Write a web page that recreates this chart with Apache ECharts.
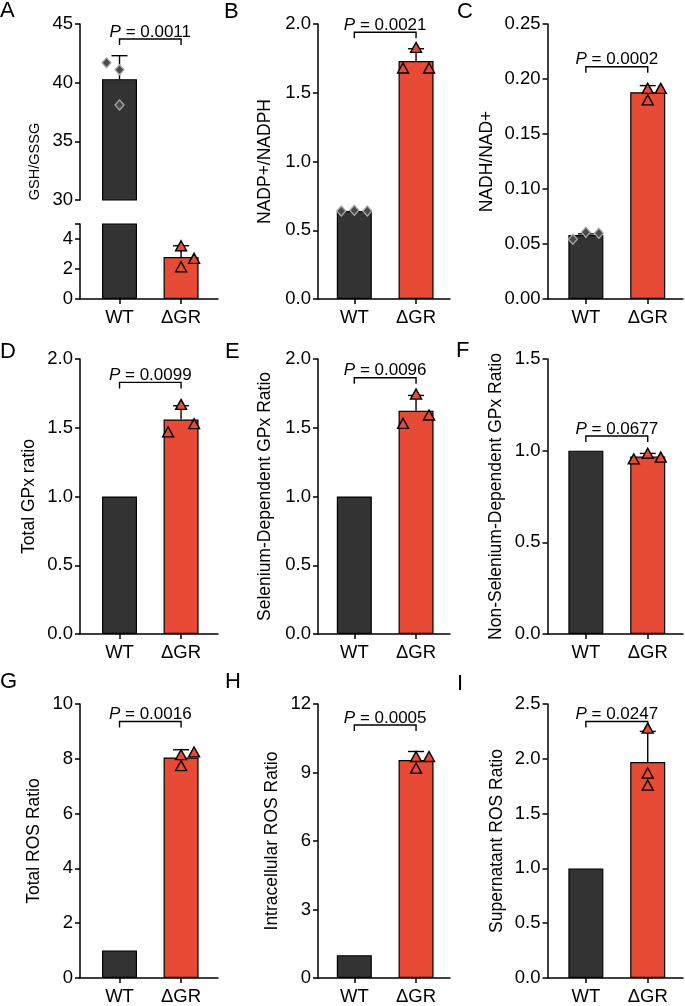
<!DOCTYPE html>
<html><head><meta charset="utf-8">
<script src="https://cdn.jsdelivr.net/npm/echarts@6/dist/echarts.min.js"></script>
<style>html,body{margin:0;padding:0;background:#fff}#c{width:685px;height:1006px}</style>
</head><body><div id="c"></div>
<script>
// ---------------- data ----------------
const categories = ['WT', 'ΔGR'];
const panelLetters = ['A','B','C','D','E','F','G','H','I'];
const yNames = ['GSH/GSSG','NADP+/NADPH','NADH/NAD+','Total GPx ratio','Selenium-Dependent GPx Ratio',
  'Non-Selenium-Dependent GPx Ratio','Total ROS Ratio','Intracellular ROS Ratio','Supernatant ROS Ratio'];
const pValues = ['0.0011','0.0021','0.0002','0.0099','0.0096','0.0677','0.0016','0.0005','0.0247'];
// bar means [WT, ΔGR]
const barMeans = [[40.3,2.8],[0.64,1.73],[0.0582,0.188],[1,1.56],[1,1.624],[1,0.968],[1,8.05],[1,9.55],[1,1.97]];
// top of error bars (mean + SD) [WT, ΔGR]; null = none
const errTops = [[42.3,3.55],[null,1.82],[0.0592,0.194],[null,1.66],[null,1.735],[null,0.985],[null,8.33],[null,9.92],[null,2.25]];
// replicate points
const wtPoints = [[41.7,41.1,38.1],[0.64,0.645,0.64],[0.0543,0.0606,0.0597],[],[],[],[],[],[]];
const grPoints = [[3.55,2.71,2.15],[1.83,1.68,1.68],[0.1915,0.1915,0.181],[1.67,1.47,1.53],[1.745,1.532,1.593],
  [0.955,0.986,0.965],[8.15,8.25,7.75],[9.7,9.7,9.19],[2.28,1.87,1.76]];
// significance bracket level (y value)
const bracketLevels = [43.72,1.94,0.2112,1.83,1.864,1.08,9.36,11.08,2.34];
// y axes (panel A: upper segment here, lower segment below)
const yMins = [30,0,0,0,0,0,0,0,0];
const yMaxs = [45,2,0.25,2,2,1.5,10,12,2.5];
const ySteps = [5,0.5,0.05,0.5,0.5,0.5,2,3,0.5];
const yDecimals = [0,1,2,1,1,1,0,0,1];
const aLowerMax = 5;
const aLowerTicks = [0,2,4,5];
const aLowerLabels = [0,2,4];

// ---------------- layout / style ----------------
const FONT = '"Liberation Sans", Arial, Helvetica, sans-serif';
const WT_COLOR = '#333333', GR_COLOR = '#e84b35';
const colLeft = [80, 318, 547.5], colWidth = [138, 132, 135.5];
const colXMin = [-0.642, -0.588, -0.62], colXMax = [1.60, 1.55, 1.57];
const rowTop = [24, 359, 704], H = 275;
const nameGaps = [38, 44, 51, 42, 44, 42, 37, 37, 41];
const letterPos = [[0,0],[224,1],[457,1],[0,341],[225,341],[456,340],[0,671],[225,671],[457,673]];
// horizontal scatter offsets (px) for each replicate
const wtJitter = [[-13,0,0],[-13,0,13],[-13,0,13],[],[],[],[],[],[]];
const grJitter = [[0,13,0],[0,-13,13],[0,13,0],[0,-13,13],[0,-13,13],[-14,0,13],[0,13,0],[0,13,0],[0,0,0]];

// parts: one grid each
const parts = [];
for (let p = 0; p < 9; p++) {
  const col = p % 3, row = Math.floor(p / 3);
  if (p === 0) {
    parts.push({p, col, top: 24, height: 176, min: 30, max: 45, step: 5, dec: 0, showX: false, bracket: true, name: false});
    parts.push({p, col, top: 224, height: 75, min: 0, max: aLowerMax, step: 2, dec: 0, showX: true, bracket: false, name: false,
      tickVals: aLowerTicks, labelVals: aLowerLabels});
  } else {
    parts.push({p, col, top: rowTop[row], height: H, min: yMins[p], max: yMaxs[p], step: ySteps[p], dec: yDecimals[p],
      showX: true, bracket: true, name: true});
  }
}

const grids = [], xAxes = [], yAxes = [], series = [];
const axisLineStyle = {color: '#000', width: 1.5};
const labelStyle = {color: '#000', fontSize: 18.5, fontFamily: FONT};

parts.forEach((pt, gi) => {
  const p = pt.p, col = pt.col;
  grids.push({left: colLeft[col], top: pt.top, width: colWidth[col], height: pt.height, containLabel: false});
  xAxes.push({
    type: 'value', gridIndex: gi, min: colXMin[col], max: colXMax[col], show: pt.showX,
    axisLine: {show: true, onZero: false, lineStyle: axisLineStyle},
    axisTick: {show: true, length: 5, customValues: [0, 1], lineStyle: axisLineStyle},
    axisLabel: Object.assign({customValues: [0, 1], margin: 9, formatter: v => categories[Math.round(v)]}, labelStyle),
    splitLine: {show: false}
  });
  const ya = {
    type: 'value', gridIndex: gi, min: pt.min, max: pt.max, interval: pt.step,
    axisLine: {show: true, onZero: false, lineStyle: axisLineStyle},
    axisTick: {show: true, length: 5, lineStyle: axisLineStyle},
    axisLabel: Object.assign({margin: 7, formatter: v => Number(v).toFixed(pt.dec)}, labelStyle),
    splitLine: {show: false}
  };
  if (pt.tickVals) { ya.axisTick.customValues = pt.tickVals; ya.axisLabel.customValues = pt.labelVals; }
  if (pt.name) {
    ya.name = yNames[p]; ya.nameLocation = 'middle'; ya.nameGap = nameGaps[p];
    ya.nameTextStyle = {color: '#000', fontSize: 17.5, fontFamily: FONT};
  }
  yAxes.push(ya);

  // bars
  series.push({
    type: 'bar', xAxisIndex: gi, yAxisIndex: gi, barWidth: 35, clip: true, z: 2,
    data: barMeans[p].map((v, i) => ({value: [i, v], itemStyle: {color: i === 0 ? WT_COLOR : GR_COLOR}})),
    itemStyle: {borderColor: '#000', borderWidth: 1.2},
    emphasis: {disabled: true}, animation: false
  });
  // error bars
  const errData = [];
  errTops[p].forEach((t, i) => {
    if (t != null && t >= pt.min && t <= pt.max && barMeans[p][i] >= pt.min) errData.push([i, barMeans[p][i], t]);
  });
  if (errData.length) series.push({
    type: 'custom', xAxisIndex: gi, yAxisIndex: gi, z: 3, data: errData, animation: false,
    renderItem: (params, api) => {
      const a = api.coord([api.value(0), api.value(1)]);
      const b = api.coord([api.value(0), api.value(2)]);
      const st = {stroke: '#000', lineWidth: 1.4};
      return {type: 'group', children: [
        {type: 'line', shape: {x1: a[0], y1: a[1], x2: b[0], y2: b[1]}, style: st},
        {type: 'line', shape: {x1: b[0] - 8, y1: b[1], x2: b[0] + 8, y2: b[1]}, style: st}
      ]};
    }
  });
  // replicate points
  const inRange = v => v >= pt.min && v <= pt.max;
  const wtData = [], grData = [];
  wtPoints[p].forEach((v, k) => { if (inRange(v)) wtData.push({value: [0, v], symbolOffset: [wtJitter[p][k], 0]}); });
  grPoints[p].forEach((v, k) => { if (inRange(v)) grData.push({value: [1, v], symbolOffset: [grJitter[p][k], 0]}); });
  if (wtData.length) series.push({
    type: 'scatter', xAxisIndex: gi, yAxisIndex: gi, z: 5, symbol: 'diamond', symbolSize: [9, 10], animation: false,
    itemStyle: {color: '#4a4a4a', borderColor: '#a8a8a8', borderWidth: 1.3, opacity: 1}, data: wtData
  });
  if (grData.length) series.push({
    type: 'scatter', xAxisIndex: gi, yAxisIndex: gi, z: 5, symbol: 'triangle', symbolSize: [11, 10], animation: false,
    itemStyle: {color: GR_COLOR, borderColor: '#000', borderWidth: 1.4, opacity: 1}, data: grData
  });
  // significance bracket
  if (pt.bracket) series.push({
    type: 'custom', xAxisIndex: gi, yAxisIndex: gi, z: 4, data: [[bracketLevels[p]]], animation: false, clip: false,
    renderItem: (params, api) => {
      const lv = api.value(0);
      const a = api.coord([0, lv]), b = api.coord([1, lv]);
      return {type: 'group', children: [
        {type: 'polyline', shape: {points: [[a[0], a[1] + 6], [a[0], a[1]], [b[0], b[1]], [b[0], b[1] + 6]]},
          style: {stroke: '#000', lineWidth: 1.4, fill: null}},
        {type: 'text', x: (a[0] + b[0]) / 2, y: a[1] - 7,
          style: {text: '{i|P} = ' + pValues[p], fill: '#000', fontSize: 17, fontFamily: FONT,
            align: 'center', verticalAlign: 'middle',
            rich: {i: {fontStyle: 'italic', fontSize: 17, fontFamily: FONT, fill: '#000'}}}}
      ]};
    }
  });
});

// name holder for panel A spanning both segments
const gA = grids.length;
grids.push({left: colLeft[0], top: 24, width: colWidth[0], height: H});
xAxes.push({type: 'value', gridIndex: gA, show: false, min: 0, max: 1});
yAxes.push({type: 'value', gridIndex: gA, min: 0, max: 1, axisLine: {show: false}, axisTick: {show: false},
  axisLabel: {show: false}, splitLine: {show: false},
  name: yNames[0], nameLocation: 'middle', nameGap: nameGaps[0],
  nameTextStyle: {color: '#000', fontSize: 14.5, fontFamily: FONT}});

const titles = panelLetters.map((t, i) => ({text: t, left: letterPos[i][0], top: letterPos[i][1], padding: 0,
  textStyle: {fontSize: 22, fontWeight: 'normal', color: '#000', fontFamily: FONT}}));

const chart = echarts.init(document.getElementById('c'), null, {renderer: 'canvas'});
chart.setOption({
  backgroundColor: '#fff', animation: false,
  title: titles, grid: grids, xAxis: xAxes, yAxis: yAxes, series: series,
  tooltip: {show: false}
});
</script></body></html>
